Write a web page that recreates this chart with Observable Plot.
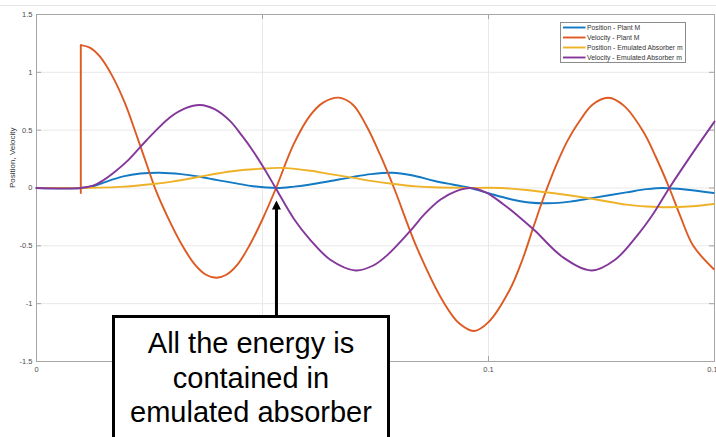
<!DOCTYPE html>
<html>
<head>
<meta charset="utf-8">
<script src="https://cdn.jsdelivr.net/npm/d3@7"></script>
<script src="https://cdn.jsdelivr.net/npm/@observablehq/plot@0.6"></script>
<style>
  body { margin: 0; background: #fff; }
  #chart { width: 716px; height: 437px; overflow: hidden; }
  #chart svg { display: block; }
</style>
</head>
<body>
<div id="chart"></div>
<script>
// Series labels and MATLAB-style line colours
const seriesNames = [
  "Position - Plant M",
  "Velocity - Plant M",
  "Position - Emulated Absorber m",
  "Velocity - Emulated Absorber m"
];
const seriesColors = ["#1279c4", "#dd5a22", "#eeb227", "#84379a"];

// Axis ticks (the 0.05 label sits behind the callout box, so only its grid line shows)
const xTicks = [0, 0.05, 0.1, 0.15];
const xTickLabels = [0, 0.1, 0.15];
const yTicks = [-1.5, -1, -0.5, 0, 0.5, 1, 1.5];

// [time, value] samples
const posPlant = [
  [0, 0], [0.0098, 0], [0.0125, 0.015], [0.0147, 0.045], [0.0192, 0.10], [0.0230, 0.125],
  [0.0273, 0.132], [0.0320, 0.12], [0.0361, 0.097], [0.0400, 0.068], [0.0442, 0.04],
  [0.0480, 0.015], [0.0532, 0.0], [0.0570, 0.012], [0.0606, 0.03], [0.0650, 0.06],
  [0.0695, 0.092], [0.0740, 0.12], [0.0787, 0.132], [0.0830, 0.11], [0.0879, 0.063],
  [0.0920, 0.03], [0.0960, 0.0], [0.1000, -0.045], [0.1047, -0.095], [0.1090, -0.125],
  [0.1132, -0.132], [0.1180, -0.118], [0.1232, -0.085], [0.1305, -0.038], [0.1350, -0.01],
  [0.1386, 0.0], [0.1440, -0.015], [0.1498, -0.043]
];

// Velocity of the plant: rest, then the impulse step, then the oscillation
const velPlantStep = [[0, 0], [0.0098, 0], [0.0098, -0.043], [0.0098, 1.235]];
const velPlant = [
  [0.0098, 1.235], [0.0118, 1.213], [0.0140, 1.137], [0.0166, 0.98], [0.0195, 0.74],
  [0.0221, 0.46], [0.0245, 0.19], [0.0265, -0.03], [0.0290, -0.25], [0.0320, -0.48],
  [0.0350, -0.66], [0.0375, -0.75], [0.0398, -0.776], [0.0420, -0.75], [0.0445, -0.66],
  [0.0472, -0.49], [0.0500, -0.27], [0.0530, 0.0], [0.0569, 0.38], [0.0606, 0.63],
  [0.0635, 0.74], [0.0669, 0.781], [0.0700, 0.72], [0.0731, 0.53], [0.0760, 0.29],
  [0.0791, 0.0], [0.0842, -0.52], [0.0901, -0.99], [0.0935, -1.17], [0.0968, -1.236],
  [0.1000, -1.16], [0.1047, -0.88], [0.1075, -0.62], [0.1100, -0.33], [0.1125, -0.05],
  [0.1150, 0.20], [0.1175, 0.41], [0.1200, 0.57], [0.1230, 0.72], [0.1265, 0.78],
  [0.1300, 0.71], [0.1342, 0.49], [0.1370, 0.27], [0.1400, 0.0], [0.1425, -0.25],
  [0.1453, -0.50], [0.1498, -0.70]
];

const posAbsorber = [
  [0, 0], [0.0098, 0], [0.0140, 0.003], [0.0184, 0.01], [0.0220, 0.02], [0.0258, 0.034],
  [0.0300, 0.055], [0.0361, 0.097], [0.0400, 0.125], [0.0442, 0.149], [0.0490, 0.165],
  [0.0540, 0.174], [0.0606, 0.149], [0.0650, 0.12], [0.0695, 0.092], [0.0740, 0.062],
  [0.0791, 0.034], [0.0840, 0.014], [0.0879, 0.006], [0.0950, 0.001], [0.1027, 0.0],
  [0.1084, -0.017], [0.1158, -0.052], [0.1232, -0.095], [0.1305, -0.144], [0.1350, -0.160],
  [0.1397, -0.167], [0.1450, -0.158], [0.1498, -0.138]
];

const velAbsorber = [
  [0, 0], [0.0098, 0], [0.0125, 0.02], [0.0147, 0.065], [0.0170, 0.13], [0.0200, 0.23],
  [0.0232, 0.365], [0.0265, 0.50], [0.0295, 0.61], [0.0330, 0.69], [0.0361, 0.718],
  [0.0395, 0.68], [0.0428, 0.58], [0.0455, 0.45], [0.0479, 0.32], [0.0505, 0.16],
  [0.0529, 0.0], [0.0570, -0.27], [0.0606, -0.45], [0.0650, -0.62], [0.0706, -0.713],
  [0.0745, -0.67], [0.0776, -0.58], [0.0827, -0.37], [0.0860, -0.22], [0.0894, -0.10],
  [0.0930, -0.025], [0.0960, 0.0], [0.0995, -0.04], [0.1032, -0.138], [0.1068, -0.25],
  [0.1103, -0.37], [0.1165, -0.60], [0.1228, -0.713], [0.1280, -0.62], [0.1327, -0.42],
  [0.1365, -0.22], [0.1400, 0.0], [0.1453, 0.31], [0.1500, 0.574]
];

// Callout text and the time it points at
const noteLines = ["All the energy is", "contained in", "emulated absorber"];
const noteTime = 0.0532;

const W = 716, H = 437;
const mL = 36, mR = 2, mT = 14, mB = 76;
const plotW = W - mL - mR, plotH = H - mT - mB;
const tickLen = 5;
const axisGray = "#a6a6a6";
const labelGray = "#4d4d4d";
const font = "'Liberation Sans', Arial, sans-serif";

const lineOpts = (color, curve) => ({
  x: d => d[0], y: d => d[1], stroke: color, strokeWidth: 1.9, curve
});

const plot = Plot.plot({
  width: W, height: H,
  marginLeft: mL, marginRight: mR, marginTop: mT, marginBottom: mB,
  style: { fontFamily: font, fontSize: "7.5px", background: "#fff" },
  x: { domain: [0, 0.15] },
  y: { domain: [-1.5, 1.5] },
  marks: [
    Plot.gridX(xTicks, { stroke: "#e8e8e8", strokeOpacity: 1 }),
    Plot.gridY(yTicks, { stroke: "#e8e8e8", strokeOpacity: 1 }),
    // inward ticks on all four sides
    Plot.ruleY(yTicks, { y: d => d, insetRight: plotW - tickLen, stroke: axisGray }),
    Plot.ruleY(yTicks, { y: d => d, insetLeft: plotW - tickLen, stroke: axisGray }),
    Plot.ruleX(xTicks, { x: d => d, insetTop: plotH - tickLen, stroke: axisGray }),
    Plot.ruleX(xTicks, { x: d => d, insetBottom: plotH - tickLen, stroke: axisGray }),
    Plot.frame({ stroke: axisGray }),
    Plot.axisY(yTicks, { tickSize: 0, tickPadding: 4, tickFormat: d => String(d), fill: labelGray, label: null }),
    Plot.axisX(xTickLabels, { tickSize: 0, tickPadding: 5, tickFormat: d => String(d), fill: labelGray, label: null }),
    Plot.text(["Position, Velocity"], { frameAnchor: "left", dx: -24, rotate: -90, fontSize: 8, fill: "#333" }),
    Plot.line(posPlant, lineOpts(seriesColors[0], "catmull-rom")),
    Plot.line(velPlantStep, lineOpts(seriesColors[1], "linear")),
    Plot.line(velPlant, lineOpts(seriesColors[1], "catmull-rom")),
    Plot.line(posAbsorber, lineOpts(seriesColors[2], "catmull-rom")),
    Plot.line(velAbsorber, lineOpts(seriesColors[3], "catmull-rom"))
  ]
});

document.getElementById("chart").appendChild(plot);

const svg = d3.select(plot);
const xs = plot.scale("x"), ys = plot.scale("y");

// faint rule along the top edge
svg.append("line")
  .attr("x1", 0).attr("x2", W).attr("y1", 5.5).attr("y2", 5.5)
  .attr("stroke", "#e4e4e4").attr("stroke-width", 1);

// legend box in the upper right corner
const lg = svg.append("g").attr("transform", "translate(560.5,22.5)");
lg.append("rect").attr("width", 125).attr("height", 40)
  .attr("fill", "#fff").attr("stroke", "#8c8c8c").attr("stroke-width", 1);
seriesNames.forEach((name, i) => {
  const y = 5 + i * 10;
  lg.append("line").attr("x1", 2.5).attr("x2", 25).attr("y1", y).attr("y2", y)
    .attr("stroke", seriesColors[i]).attr("stroke-width", 1.9);
  lg.append("text").attr("x", 26.5).attr("y", y).attr("dy", "0.35em")
    .attr("text-anchor", "start")
    .attr("font-size", 6.8).attr("fill", "#333")
    .attr("font-family", font)
    .text(name);
});

// callout box with an arrow up to the crossing point
const ax = xs.apply(noteTime);
const tipY = ys.apply(0) + 13;
const boxTop = 316.5;
const note = svg.append("g");
note.append("line").attr("x1", ax).attr("x2", ax).attr("y1", boxTop).attr("y2", tipY + 7)
  .attr("stroke", "#000").attr("stroke-width", 3);
note.append("path")
  .attr("d", `M${ax},${tipY} L${ax - 4.5},${tipY + 9} L${ax + 4.5},${tipY + 9} Z`)
  .attr("fill", "#000");
note.append("rect").attr("x", 113.5).attr("y", boxTop).attr("width", 275).attr("height", 140)
  .attr("fill", "#fff").attr("stroke", "#000").attr("stroke-width", 3);
noteLines.forEach((line, i) => {
  note.append("text").attr("x", 251).attr("y", 353 + i * 34.5)
    .attr("text-anchor", "middle").attr("font-size", 29).attr("fill", "#000")
    .attr("font-family", font)
    .text(line);
});
</script>
</body>
</html>
